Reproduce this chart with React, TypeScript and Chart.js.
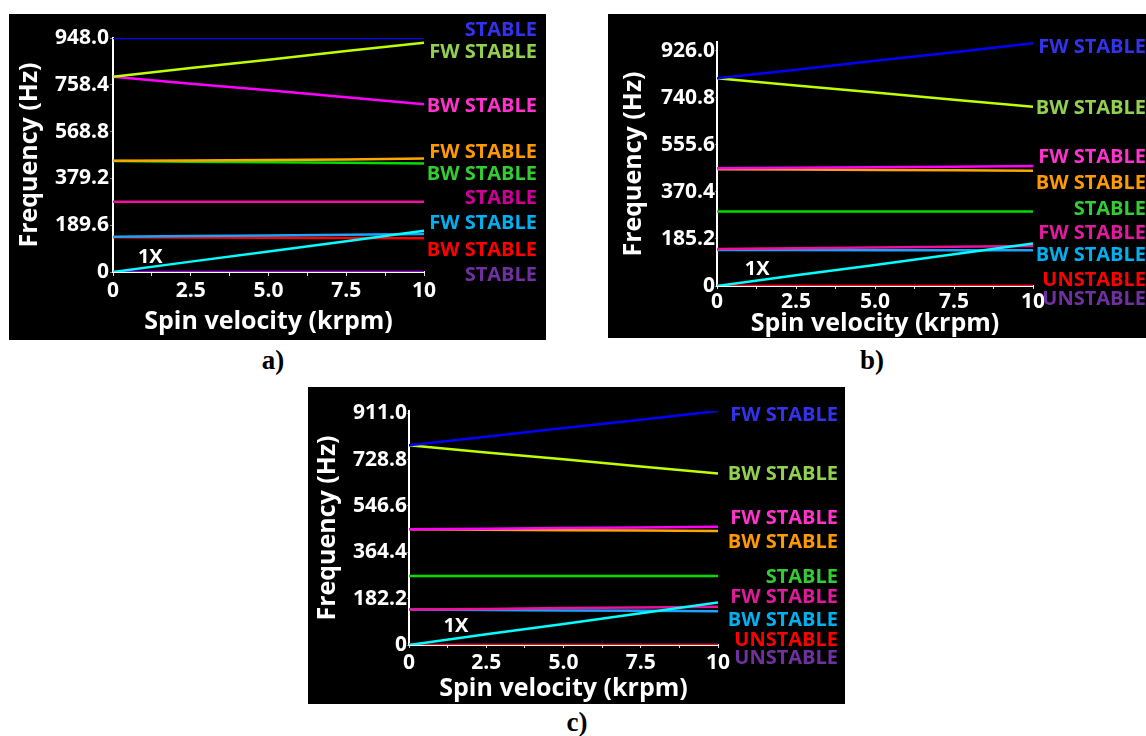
import React, { useEffect, useRef } from "react";
import { Chart, registerables } from "chart.js";
Chart.register(...registerables);

// ---------- shared data ----------
const spin = [0, 2.5, 5, 7.5, 10]; // krpm
const xTickLabels = ["0", "2.5", "5.0", "7.5", "10"];
const oneX = [0, 42, 83, 125, 167]; // 1X line (Hz)

// ---------- panel a ----------
const aYTickVals = [0, 189.6, 379.2, 568.8, 758.4, 948.0];
const aYTickLabels = ["0", "189.6", "379.2", "568.8", "758.4", "948.0"];
const aBlue = [948, 948, 948, 948, 948];
const aYellow = [791, 826, 860, 895, 929];
const aMagenta = [791, 763, 736, 708, 680];
const aOrange = [451, 452, 454, 456, 460];
const aGreen = [450, 447, 445, 443, 440];
const aPink = [285, 285, 285, 285, 285];
const aLightBlue = [143, 146, 148, 151, 154];
const aRed = [141, 140, 139, 138, 137];
const aPurple = [0, 0, 0, 0, 0];
const aLabels = ["STABLE", "FW STABLE", "BW STABLE", "FW STABLE", "BW STABLE", "STABLE", "FW STABLE", "BW STABLE", "STABLE"];
const aLabelColors = ["#3333ee", "#92d050", "#ff33cc", "#ff9900", "#33cc33", "#cc0099", "#00b0f0", "#ff0000", "#7030a0"];

// ---------- panel b ----------
const bYTickVals = [0, 185.2, 370.4, 555.6, 740.8, 926.0];
const bYTickLabels = ["0", "185.2", "370.4", "555.6", "740.8", "926.0"];
const bBlue = [818, 852, 887, 921, 956];
const bYellow = [818, 790, 762, 734, 706];
const bMagenta = [464, 466, 468, 470, 473];
const bOrange = [460, 459, 457, 456, 454];
const bGreen = [293, 293, 293, 293, 293];
const bPink = [146, 149, 152, 155, 158];
const bLightBlue = [142, 142, 141, 141, 141];
const bRed = [0, 0, 0, 0, 0];
const bPurple = [0, 0, 0, 0, 0];
const bLabels = ["FW STABLE", "BW STABLE", "FW STABLE", "BW STABLE", "STABLE", "FW STABLE", "BW STABLE", "UNSTABLE", "UNSTABLE"];
const bLabelColors = ["#3333ee", "#92d050", "#ff33cc", "#ff9900", "#33cc33", "#e01a9c", "#00b0f0", "#ff0000", "#7030a0"];

// ---------- panel c ----------
const cYTickVals = [0, 182.2, 364.4, 546.6, 728.8, 911.0];
const cYTickLabels = ["0", "182.2", "364.4", "546.6", "728.8", "911.0"];
const cBlue = [785, 819, 853, 886, 920];
const cYellow = [785, 757, 730, 702, 674];
const cMagenta = [455, 457, 460, 462, 465];
const cOrange = [455, 453, 451, 450, 448];
const cGreen = [271, 271, 271, 271, 271];
const cPink = [140, 142, 145, 147, 150];
const cLightBlue = [140, 138, 136, 135, 133];
const cRed = [0, 0, 0, 0, 0];
const cPurple = [0, 0, 0, 0, 0];
const cLabels = bLabels;
const cLabelColors = bLabelColors;

const FONT = '"Open Sans", "Noto Sans", sans-serif';

type Series = { data: number[]; color: string };

type PanelCfg = {
  left: number; top: number; w: number; h: number;
  padTop: number; padRight: number; yWidth: number; xHeight: number;
  yMax: number; yTickVals: number[]; yTickLabels: string[];
  series: Series[];
  labels: string[]; labelColors: string[]; labelYs: number[]; labelRight: number;
  oneXPos: [number, number];
  yTitlePad: number; xTitlePad: number; xTickLen: number; xTickPad: number; yTickLen: number; yTickPad: number;
};

const panels: PanelCfg[] = [
  {
    left: 9, top: 14, w: 537, h: 326, padTop: 24, padRight: 122, yWidth: 104, xHeight: 68,
    yMax: 948, yTickVals: aYTickVals, yTickLabels: aYTickLabels,
    series: [
      { data: aBlue, color: "#0000ff" },
      { data: oneX, color: "#00ffff" },
      { data: aLightBlue, color: "#1aa3ff" },
      { data: aRed, color: "#ff0000" },
      { data: aYellow, color: "#bfff00" },
      { data: aMagenta, color: "#ff00ff" },
      { data: aOrange, color: "#ffa500" },
      { data: aGreen, color: "#00dd00" },
      { data: aPink, color: "#f0109a" },
      { data: aPurple, color: "#a000e0" },
    ],
    labels: aLabels, labelColors: aLabelColors,
    labelYs: [16, 38, 92, 138, 160, 184, 209, 236, 261], labelRight: 528,
    oneXPos: [1.2, 60],
    yTitlePad: 7, xTitlePad: 4, xTickLen: 4, xTickPad: 2, yTickLen: 3, yTickPad: 1,
  },
  {
    left: 608, top: 14, w: 538, h: 324, padTop: 28, padRight: 113, yWidth: 109, xHeight: 52,
    yMax: 961, yTickVals: bYTickVals, yTickLabels: bYTickLabels,
    series: [
      { data: bBlue, color: "#0000ff" },
      { data: bYellow, color: "#bfff00" },
      { data: bMagenta, color: "#ff00ff" },
      { data: bOrange, color: "#ffa500" },
      { data: bGreen, color: "#00dd00" },
      { data: oneX, color: "#00ffff" },
      { data: bPink, color: "#f0109a" },
      { data: bLightBlue, color: "#1aa3ff" },
      { data: bRed, color: "#ff0000" },
      { data: bPurple, color: "#a000e0" },
    ],
    labels: bLabels, labelColors: bLabelColors,
    labelYs: [33, 94, 143, 169, 195, 219, 241, 266, 285], labelRight: 538,
    oneXPos: [1.27, 66],
    yTitlePad: 12, xTitlePad: 0, xTickLen: 3, xTickPad: 0, yTickLen: 2, yTickPad: 0,
  },
  {
    left: 308, top: 387, w: 537, h: 317, padTop: 24, padRight: 127, yWidth: 101, xHeight: 59,
    yMax: 920, yTickVals: cYTickVals, yTickLabels: cYTickLabels,
    series: [
      { data: cBlue, color: "#0000ff" },
      { data: cYellow, color: "#bfff00" },
      { data: cMagenta, color: "#ff00ff" },
      { data: cOrange, color: "#ffa500" },
      { data: cGreen, color: "#00dd00" },
      { data: oneX, color: "#00ffff" },
      { data: cPink, color: "#f0109a" },
      { data: cLightBlue, color: "#1aa3ff" },
      { data: cRed, color: "#ff0000" },
      { data: cPurple, color: "#a000e0" },
    ],
    labels: cLabels, labelColors: cLabelColors,
    labelYs: [28, 87, 131, 155, 190, 210, 233, 253, 271], labelRight: 530,
    oneXPos: [1.52, 72],
    yTitlePad: 6, xTitlePad: 1, xTickLen: 3, xTickPad: 2, yTickLen: 2, yTickPad: 0,
  },
];

function Panel({ cfg }: { cfg: PanelCfg }) {
  const ref = useRef<HTMLCanvasElement | null>(null);
  useEffect(() => {
    if (!ref.current) return;
    const annot = {
      id: "annot",
      afterDatasetsDraw(chart: any) {
        const ctx = chart.ctx;
        ctx.save();
        ctx.font = `bold 20px ${FONT}`;
        ctx.textAlign = "right";
        ctx.textBaseline = "middle";
        cfg.labels.forEach((t, i) => {
          ctx.fillStyle = cfg.labelColors[i];
          ctx.fillText(t, cfg.labelRight, cfg.labelYs[i]);
        });
        ctx.fillStyle = "#ffffff";
        ctx.textAlign = "center";
        ctx.fillText("1X", chart.scales.x.getPixelForValue(cfg.oneXPos[0]), chart.scales.y.getPixelForValue(cfg.oneXPos[1]));
        ctx.restore();
      },
    };
    const chart = new Chart(ref.current, {
      type: "line",
      data: {
        datasets: cfg.series.map((s) => ({
          data: spin.map((x, i) => ({ x, y: s.data[i] })),
          borderColor: s.color,
          backgroundColor: s.color,
          borderWidth: 2.5,
          pointRadius: 0,
          tension: 0,
          fill: false,
        })),
      },
      options: {
        animation: false,
        responsive: false,
        devicePixelRatio: 1,
        layout: { padding: { top: cfg.padTop, right: cfg.padRight, left: 0, bottom: 0 } },
        plugins: { legend: { display: false }, tooltip: { enabled: false } },
        scales: {
          x: {
            type: "linear", min: 0, max: 10,
            afterFit: (s: any) => { s.height = cfg.xHeight; },
            border: { display: true, color: "#ffffff", width: 2 },
            grid: { display: true, drawOnChartArea: false, drawTicks: true, tickLength: cfg.xTickLen, color: "#dddddd", lineWidth: 1 },
            ticks: {
              stepSize: 1.25, autoSkip: false, maxRotation: 0, minRotation: 0,
              padding: cfg.xTickPad, color: "#ffffff",
              font: { family: FONT, size: 21, weight: "bold" },
              callback: (v: any, i: number) => (i % 2 === 0 ? xTickLabels[i / 2] : ""),
            },
            title: {
              display: true, text: "Spin velocity (krpm)", color: "#ffffff",
              font: { family: FONT, size: 25, weight: "bold", lineHeight: 1.1 },
              padding: { top: 0, bottom: cfg.xTitlePad },
            },
          },
          y: {
            type: "linear", min: 0, max: cfg.yMax,
            afterFit: (s: any) => { s.width = cfg.yWidth; },
            afterBuildTicks: (s: any) => { s.ticks = cfg.yTickVals.map((v) => ({ value: v })); },
            border: { display: true, color: "#ffffff", width: 2 },
            grid: { display: true, drawOnChartArea: false, drawTicks: true, tickLength: cfg.yTickLen, color: "#777777" },
            ticks: {
              padding: cfg.yTickPad, color: "#ffffff",
              font: { family: FONT, size: 21, weight: "bold" },
              callback: (v: any, i: number) => cfg.yTickLabels[i],
            },
            title: {
              display: true, text: "Frequency (Hz)", color: "#ffffff",
              font: { family: FONT, size: 25, weight: "bold", lineHeight: 1.1 },
              padding: { top: cfg.yTitlePad, bottom: 0 },
            },
          },
        },
      } as any,
      plugins: [annot],
    });
    return () => chart.destroy();
  }, [cfg]);
  return (
    <canvas
      ref={ref}
      width={cfg.w}
      height={cfg.h}
      style={{ position: "absolute", left: cfg.left, top: cfg.top, width: cfg.w, height: cfg.h, background: "#000000" }}
    />
  );
}

const captions = [
  { text: "a)", x: 273, y: 360 },
  { text: "b)", x: 872, y: 360 },
  { text: "c)", x: 577, y: 722 },
];

export default function App() {
  return (
    <div style={{ position: "absolute", left: 0, top: 0, width: 1146, height: 736, background: "#ffffff", overflow: "hidden" }}>
      {panels.map((p, i) => (
        <Panel key={i} cfg={p} />
      ))}
      {captions.map((c, i) => (
        <div
          key={i}
          style={{
            position: "absolute", left: c.x, top: c.y, transform: "translate(-50%, -50%)",
            font: 'bold 27px "Liberation Serif", "Times New Roman", serif', lineHeight: "27px", color: "#000",
          }}
        >
          {c.text}
        </div>
      ))}
    </div>
  );
}
